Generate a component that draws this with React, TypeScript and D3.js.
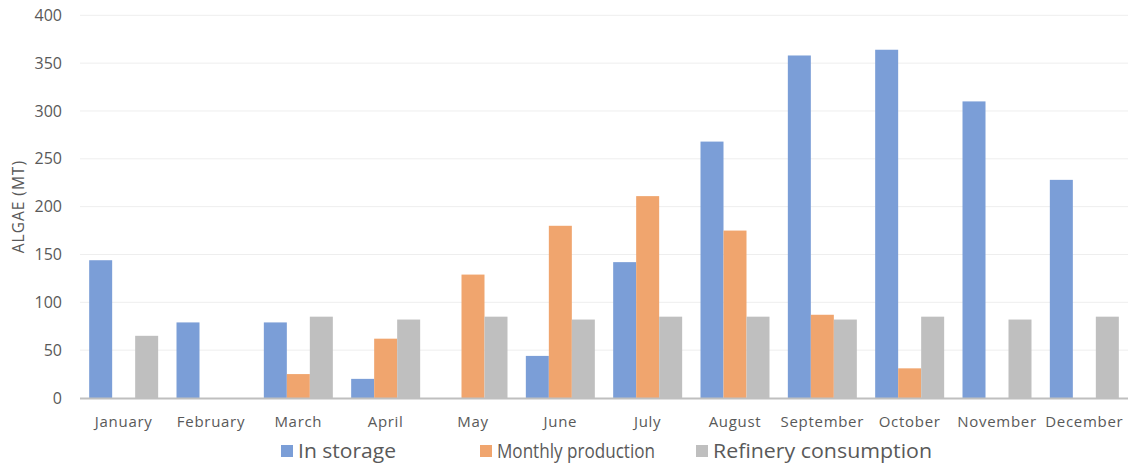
import React from "react";
import * as d3 from "d3";

const months = ["January","February","March","April","May","June","July","August","September","October","November","December"];
const inStorage = [144, 79, 79, 20, 0, 44, 142, 268, 358, 364, 310, 228];
const monthlyProduction = [0, 0, 25, 62, 129, 180, 211, 175, 87, 31, 0, 0];
const refineryConsumption = [65, 0, 85, 82, 85, 82, 85, 85, 82, 85, 82, 85];
const seriesNames = ["In storage", "Monthly production", "Refinery consumption"];
const seriesColors = ["#7B9ED7", "#F0A56E", "#BFBFBF"];
const yTicks = [0, 50, 100, 150, 200, 250, 300, 350, 400];

const W = 1129, H = 463;
const left = 80, right = 1128, top = 15.3, bottom = 398;
const font = "'Open Sans', 'Noto Sans', sans-serif";

export default function App() {
  const x = d3.scaleBand<string>().domain(months).range([left, right]).paddingInner(0.21).paddingOuter(0.105);
  const sub = d3.scaleBand<number>().domain([0, 1, 2]).range([0, x.bandwidth()]);
  const y = d3.scaleLinear().domain([0, 400]).range([bottom, top]);
  const data = [inStorage, monthlyProduction, refineryConsumption];
  const legendX = [281, 480, 696];
  const legendLen = [98, 158, 219];

  return (
    <svg width={W} height={H} style={{ position: "absolute", left: 0, top: 0, background: "#fff" }}>
      {yTicks.map(t => (
        <g key={t}>
          {t > 0 && <line x1={left} x2={right} y1={y(t)} y2={y(t)} stroke="#EEEEEE" strokeWidth={1} />}
          <text x={62} y={y(t)} dy="0.35em" textAnchor="end" fontFamily={font} fontSize={16} fill="#595959">{t}</text>
        </g>
      ))}
      <text transform={`translate(19,${(top + bottom) / 2}) rotate(-90)`} textAnchor="middle" dy="0.35em" fontFamily={font} fontSize={15.5} letterSpacing={1} fill="#595959">ALGAE (MT)</text>
      {data.map((vals, si) => vals.map((v, i) => v > 0 && (
        <rect key={`${si}-${i}`} x={(x(months[i]) as number) + (sub(si) as number)} y={y(v)} width={sub.bandwidth()} height={y(0) - y(v)} fill={seriesColors[si]} />
      )))}
      <line x1={left} x2={right} y1={bottom + 0.5} y2={bottom + 0.5} stroke="#BFBFBF" strokeWidth={2} />
      {months.map(m => (
        <text key={m} x={(x(m) as number) + x.bandwidth() / 2} y={422} dy="0.35em" textAnchor="middle" fontFamily={font} fontSize={15} letterSpacing={0.7} fill="#595959">{m}</text>
      ))}
      {seriesNames.map((n, i) => (
        <g key={n}>
          <rect x={legendX[i]} y={445} width={12} height={12} fill={seriesColors[i]} />
          <text x={legendX[i] + 17} y={451} dy="0.35em" fontFamily={font} fontSize={19.5} textLength={legendLen[i]} lengthAdjust="spacingAndGlyphs" fill="#595959">{n}</text>
        </g>
      ))}
    </svg>
  );
}
